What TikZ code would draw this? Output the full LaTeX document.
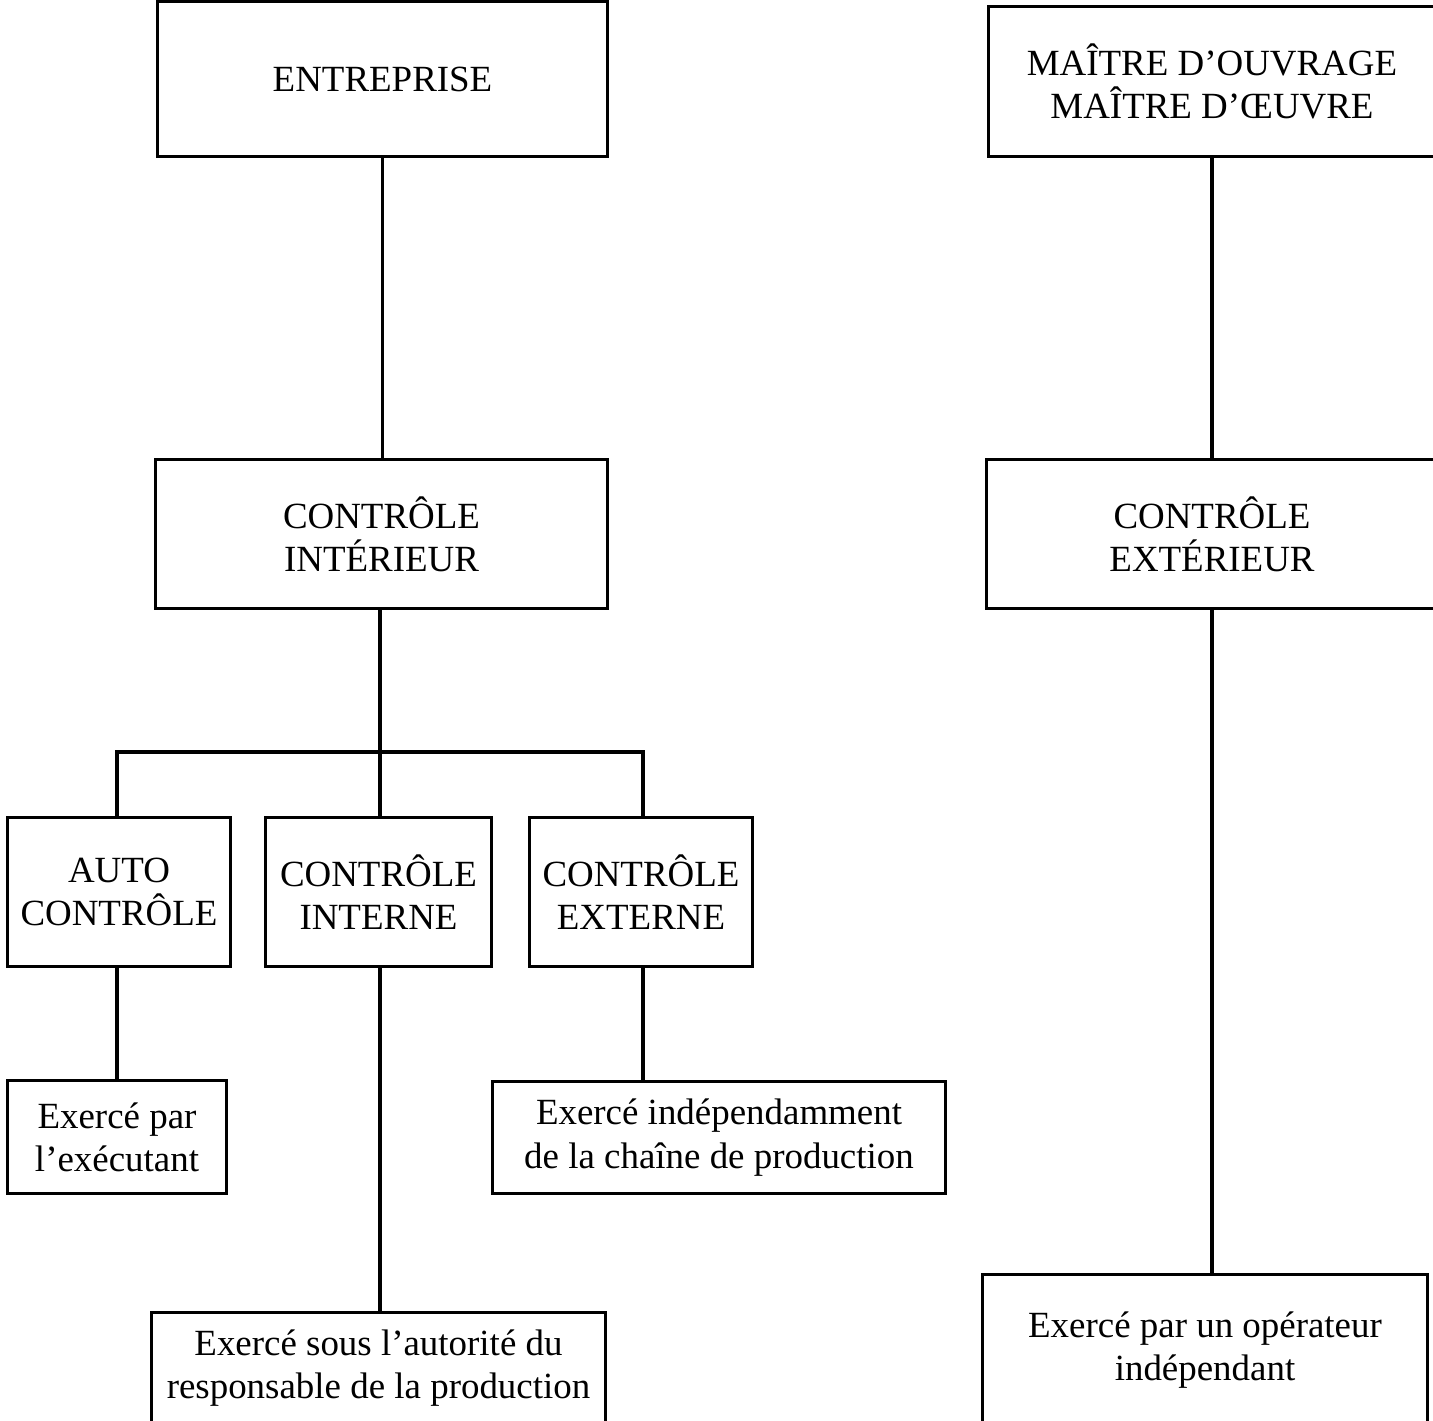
\documentclass[tikz,border=0pt]{standalone}
\usepackage{fontspec}
\setmainfont{Liberation Serif}
\usepackage{tikz}
\tikzset{
	bloc/.style = {draw=black, line width=0.85pt, align=center, inner sep=0pt, text centered, font=\fontsize{10.5pt}{12.3pt}\selectfont},
	lien/.style = {line width=1.1pt},
	barre/.style = {line width=1.3pt}
}

\begin{document}
\begin{tikzpicture}[x=0.01cm, y=-0.01cm]
\useasboundingbox (0,0) rectangle (1433,1420);
\clip (0,0) rectangle (1433,1420);
\node [bloc, minimum width=4.49cm, minimum height=1.54cm] (entreprise) at (382.5,79) {ENTREPRISE};
\node [bloc, minimum width=4.46cm, minimum height=1.49cm] (maitre) at (1212,81.5) {MAÎTRE D’OUVRAGE\\MAÎTRE D’ŒUVRE};
\node [bloc, minimum width=4.51cm, minimum height=1.48cm] (interieur) at (381.5,534) {CONTRÔLE\\INTÉRIEUR};
\node [bloc, minimum width=4.50cm, minimum height=1.48cm] (exterieur) at (1212,534) {CONTRÔLE\\EXTÉRIEUR};
\node [bloc, minimum width=2.22cm, minimum height=1.48cm] (auto) at (119,892) {AUTO\\CONTRÔLE};
\node [bloc, minimum width=2.25cm, minimum height=1.48cm] (interne) at (378.5,892) {CONTRÔLE\\INTERNE};
\node [bloc, minimum width=2.22cm, minimum height=1.48cm] (externe) at (641,892) {CONTRÔLE\\EXTERNE};
\node [bloc, minimum width=2.18cm, minimum height=1.12cm] (executant) at (117,1137) {Exercé par\\l’exécutant};
\node [bloc, minimum width=4.52cm, minimum height=1.11cm] (independant) at (719,1137.5) {Exercé indépendamment\\de la chaîne de production};
\node [bloc, minimum width=4.53cm, minimum height=1.10cm] (autorite) at (378.5,1368) {Exercé sous l’autorité du\\responsable de la production};
\node [bloc, minimum width=4.44cm, minimum height=1.50cm] (operateur) at (1205,1350) {Exercé par un opérateur\\indépendant};
\coordinate (noeud) at (380,752);
\draw [lien] (entreprise.south) -- (entreprise.south |- interieur.north);
\draw [lien] (maitre.south) -- (exterieur.north);
\draw [lien] (exterieur.south) -- (exterieur.south |- operateur.north);
\draw [lien] (interieur.south -| noeud) -- (noeud);
\draw [barre] (auto.north -| 117,0) |- (noeud) -| (externe.north -| 643,0);
\draw [lien] (noeud) -- (noeud |- interne.north);
\draw [lien] (auto.south -| 117,0) -- (executant.north -| 117,0);
\draw [lien] (interne.south -| noeud) -- (noeud |- autorite.north);
\draw [lien] (externe.south -| 643,0) -- (independant.north -| 643,0);
\end{tikzpicture}
\end{document}
